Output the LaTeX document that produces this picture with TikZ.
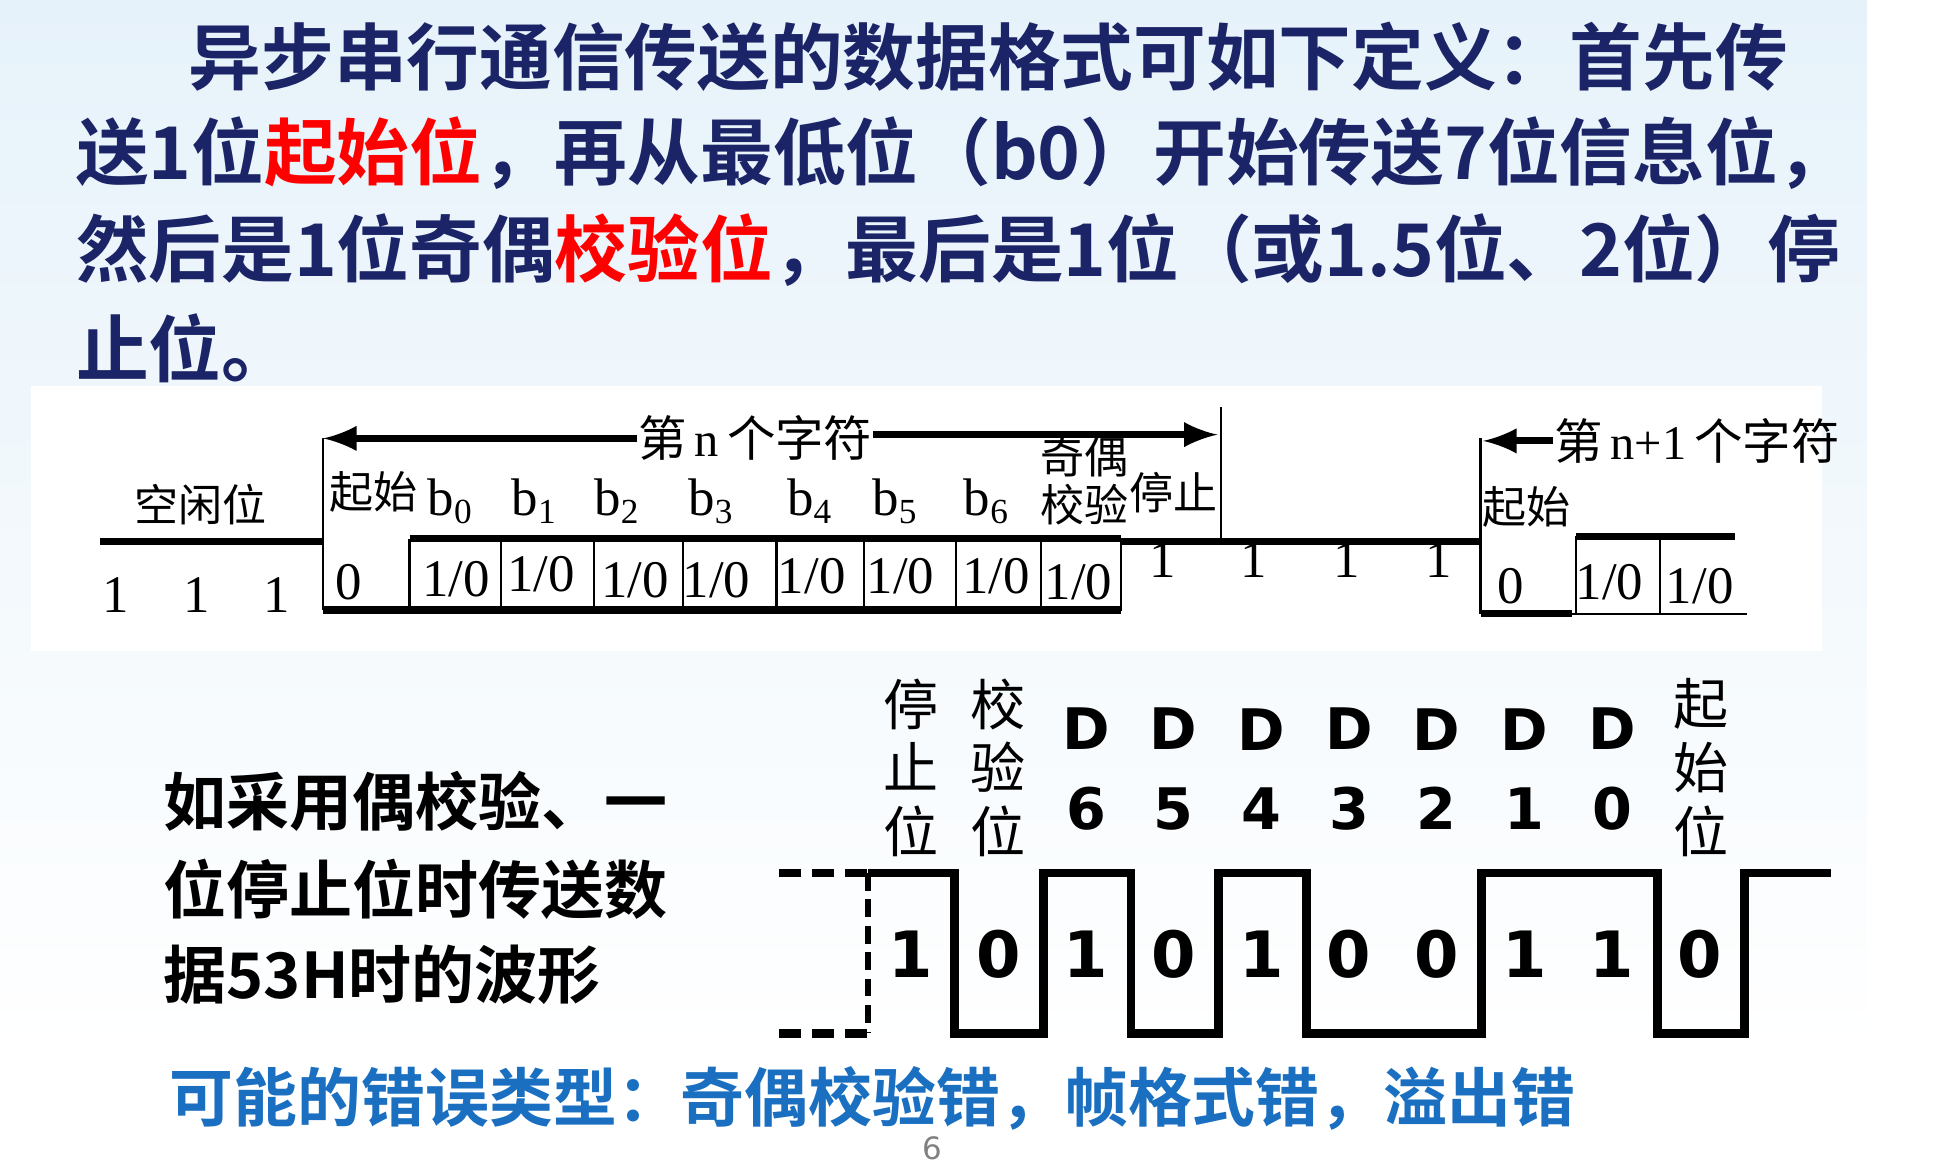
\documentclass[tikz,border=0pt]{standalone}
\usepackage{fontspec}
\setmainfont{Liberation Serif}
\newfontfamily\cjkb{Noto Sans CJK SC Bold}
\newfontfamily\cjk{Noto Sans CJK SC}
\newfontfamily\dvb{DejaVu Sans Bold}
\newfontfamily\dvs{DejaVu Sans}
\definecolor{navy}{HTML}{1A2466}
\definecolor{bluet}{HTML}{1A6FC0}
\definecolor{bgb}{HTML}{E6F2FA}
\begin{document}
\begin{tikzpicture}[x=0.01cm,y=-0.01cm,
  title/.style={anchor=west,inner sep=0,text=navy,font=\cjkb\fontsize{16.5}{18}\selectfont},
  lab/.style={inner sep=0,font=\cjk\fontsize{10}{11}\selectfont},
  num/.style={inner sep=0,font=\fontsize{12}{12}\selectfont},
  thk/.style={line width=1.6pt},
  thn/.style={line width=0.5pt},
  wave/.style={line width=2pt},
  dsh/.style={line width=2pt,dash pattern=on 5pt off 2.5pt},
  bit/.style={inner sep=0,font=\dvb\fontsize{14.5}{15}\selectfont},
  vlab/.style={inner sep=0,font=\cjk\fontsize{12.5}{14.5}\selectfont,align=center},
  note/.style={anchor=west,inner sep=0,font=\cjkb\fontsize{14.3}{16}\selectfont}]
\useasboundingbox (0,0) rectangle (1560,933);
\shade[top color=bgb,bottom color=white] (0,0) rectangle (1490,840);
\fill[white] (25,308) rectangle (1455,520);
% title
\node[title] (t1) at (150,45) {异步串行通信传送的数据格式可如下定义：首先传};
\node[title] (t2) at (60,122) {送1位\textcolor{red}{起始位}，再从最低位（b0）开始传送7位信息位，};
\node[title] (t3) at (60,200) {然后是1位奇偶\textcolor{red}{校验位}，最后是1位（或1.5位、2位）停};
\node[title] (t4) at (60,278) {止位。};
% frame diagram
\draw[thk] (80,432) -- (258,432);
\draw[thn] (258,350) -- (258,487);
\draw[thk] (258,487) -- (895,487);
\draw[thk] (327,430) -- (895,430);
\foreach \x in {327,400,474,545,620,690,763,831,895}
  \draw[thn] (\x,430) -- (\x,488);
\draw[thk] (895,432) -- (1182,432);
\draw[thn] (975,325) -- (975,432);
\draw[thn] (1182,350) -- (1182,490);
\draw[thk] (1182,490) -- (1255,490);
\draw[thn] (1255,490) -- (1395,490);
\draw[thk] (1258,428) -- (1385,428);
\foreach \x in {1258,1325} \draw[thn] (\x,428) -- (\x,490);
\node[lab,font=\cjk\fontsize{11}{12}\selectfont] (cn) at (603,350) {第\,{\rmfamily n}\,个字符};
\draw[thk,-latex] (cn.west |- 0,350) -- (258,350);
\draw[thk,-latex] (cn.east |- 0,347) -- (972,347);
\node[lab,font=\cjk\fontsize{11}{12}\selectfont,anchor=west] (cn1) at (1240,352) {第\,{\rmfamily n+1}\,个字符};
\draw[thk,-latex] (cn1.west) -- (1184,352);
\node[lab] (kx) at (160,403) {空闲位};
\node[lab] (qs) at (298,393) {起始};
\foreach \x/\i in {360/0,427/1,493/2,568/3,647/4,715/5,788/6}
  \node[num] (b\i) at (\x,400) {b\textsubscript{\i}};
\node[lab] (jo) at (866,365) {奇偶};
\node[lab] (jy) at (866,403) {校验};
\node[lab] (tz) at (937,393) {停止};
\node[lab] (qs2) at (1219,405) {起始};
\foreach \x/\n in {92/a,157/b,221/c} \node[num] (i\n) at (\x,475) {1};
\node[num] (z0) at (278,465) {0};
\foreach \x/\y/\n in {364/462/a,432/458/b,507/463/c,572/463/d,648/460/e,719/460/f,795/460/g,861/465/h}
  \node[num] (v\n) at (\x,\y) {1/0};
\foreach \x/\n in {928/a,1001/b,1075/c,1149/d} \node[num] (s\n) at (\x,447) {1};
\node[num] (z1) at (1206,468) {0};
\node[num] (w1) at (1285,465) {1/0};
\node[num] (w2) at (1357,468) {1/0};
% waveform
\draw[dsh] (622,697) -- (693,697);
\draw[dsh] (622,825) -- (693,825);
\draw[line width=1.5pt,dash pattern=on 4pt off 2pt] (693,697) -- (693,825);
\draw[wave] (693,697) -- (762,697) -- (762,825) -- (833,825) -- (833,697) -- (903,697) -- (903,825)
  -- (973,825) -- (973,697) -- (1043,697) -- (1043,825) -- (1183,825) -- (1183,697) -- (1323,697)
  -- (1323,825) -- (1393,825) -- (1393,697) -- (1462,697);
\foreach \x/\b/\n in {727/1/a,797/0/b,867/1/c,937/0/d,1007/1/e,1077/0/f,1147/0/g,1217/1/h,1287/1/i,1357/0/j}
  \node[bit] (bt\n) at (\x,762) {\b};
\node[vlab] (stp) at (727,613) {停\\止\\位};
\node[vlab] (chk) at (797,613) {校\\验\\位};
\node[vlab] (sta) at (1358,613) {起\\始\\位};
\foreach \x/\d in {867/6,937/5,1007/4,1077/3,1147/2,1217/1,1287/0}
  \node[bit,align=center,font=\dvb\fontsize{13}{18}\selectfont] (d\d) at (\x,614) {D\\\d};
\node[note] (n1) at (130,640) {如采用偶校验、一};
\node[note] (n2) at (130,710) {位停止位时传送数};
\node[note] (n3) at (130,778) {据53H时的波形};
\node[note,text=bluet,font=\cjkb\fontsize{14.5}{16}\selectfont] (err) at (135,877) {可能的错误类型：奇偶校验错，帧格式错，溢出错};
\node[inner sep=0,text=gray,font=\dvs\fontsize{7}{8}\selectfont] (pg) at (744,917) {6};
\end{tikzpicture}
\end{document}
